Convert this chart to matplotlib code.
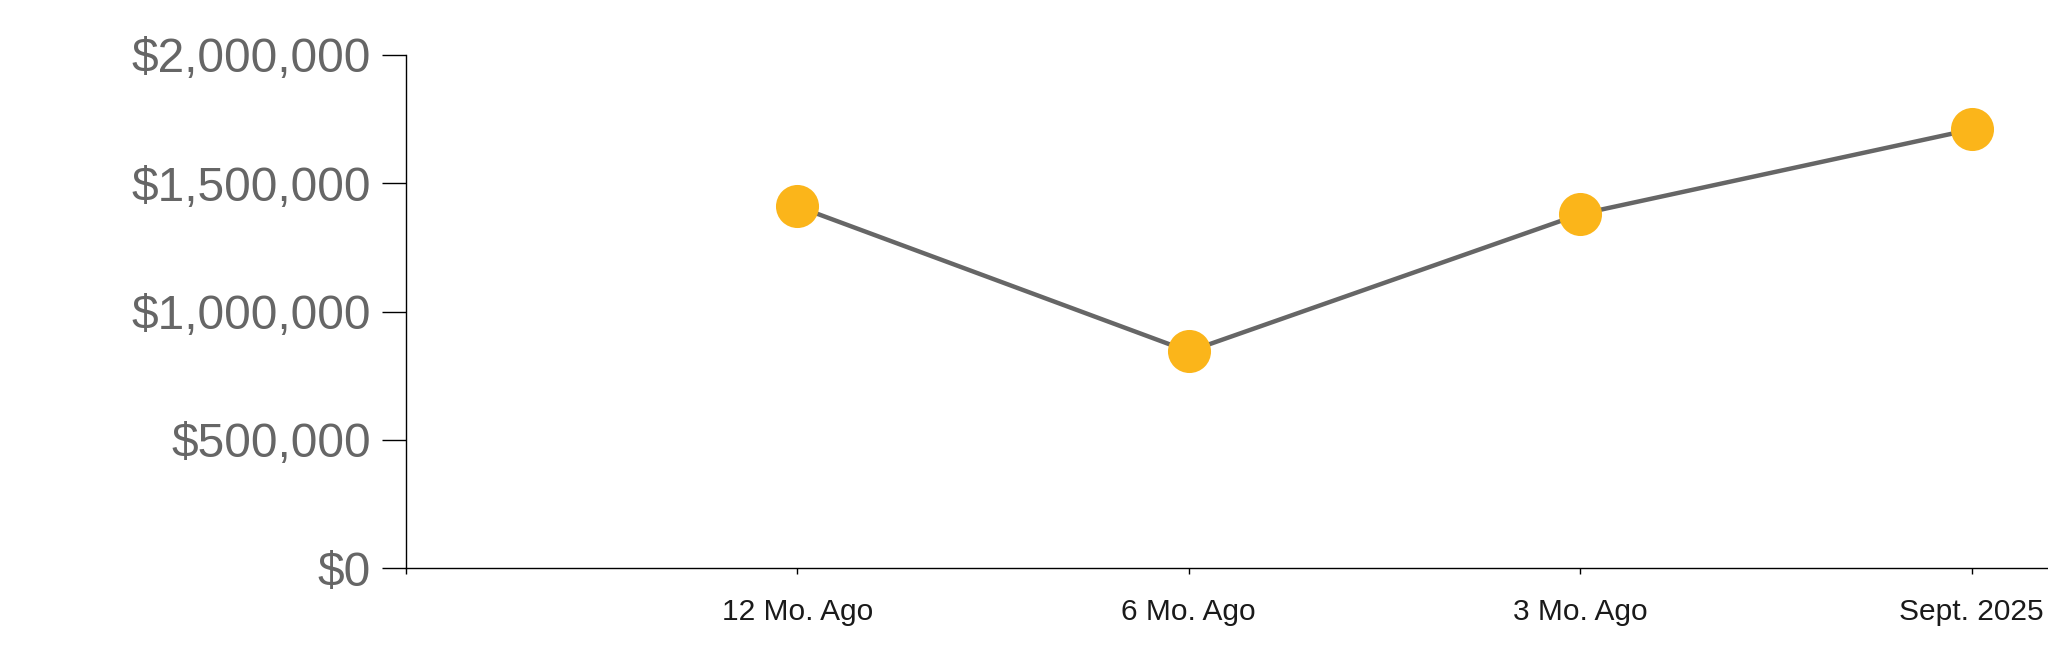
import matplotlib
matplotlib.use("Agg")
import matplotlib.pyplot as plt
from matplotlib.ticker import FuncFormatter

categories = ["", "12 Mo. Ago", "6 Mo. Ago", "3 Mo. Ago", "Sept. 2025"]
values = [1410000, 845000, 1380000, 1710000]
y_ticks = [0, 500000, 1000000, 1500000, 2000000]

plt.rcParams['font.family'] = ['Liberation Sans', 'DejaVu Sans']

fig = plt.figure(figsize=(20.48, 6.63), dpi=100)
ax = fig.add_axes([406/2048, 1 - 568.3/663, 1 - 406/2048, (568.3 - 55)/663])

xs = list(range(1, len(values) + 1))
ax.plot(xs, values, color="#666666", lw=3.2, zorder=2, solid_capstyle="butt")
ax.plot(xs, values, linestyle="none", marker="o", markersize=31,
        markerfacecolor="#FBB51A", markeredgecolor="#FBB51A", markeredgewidth=0, zorder=3)

ax.set_xlim(0, (2048 - 406) / 391.4)
ax.set_ylim(0, 2000000)
ax.set_xticks(range(len(categories)))
ax.set_xticklabels(categories)
ax.set_yticks(y_ticks)
ax.yaxis.set_major_formatter(FuncFormatter(lambda v, p: "${:,.0f}".format(v)))

for s in ["top", "right"]:
    ax.spines[s].set_visible(False)
for s in ["left", "bottom"]:
    ax.spines[s].set_color("black")
    ax.spines[s].set_linewidth(1.0)

ax.tick_params(axis="y", length=17.3, width=1.0, color="black", pad=8,
               labelsize=34.5, labelcolor="#666666")
ax.tick_params(axis="x", length=4.3, width=1.0, color="black", pad=17,
               labelsize=21.5, labelcolor="#1a1a1a")

fig.savefig("out.png", dpi=100, facecolor="white")
